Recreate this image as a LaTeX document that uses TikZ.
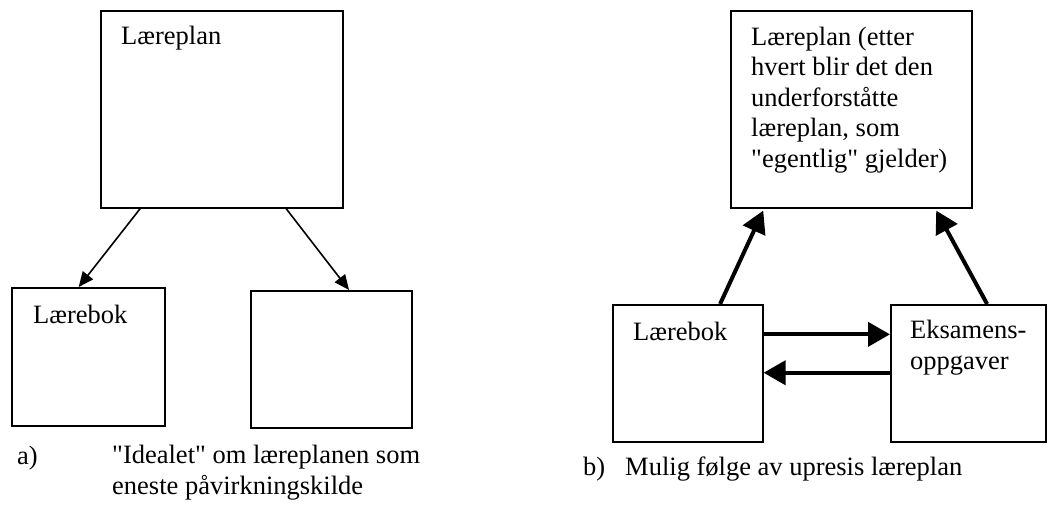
\documentclass[tikz,border=0pt]{standalone}
\usepackage{fontspec}
\setmainfont{Liberation Serif}[Ligatures=TeXOff]
\usetikzlibrary{arrows.meta,calc}
\begin{document}
\begin{tikzpicture}[x=1pt,y=-1pt,
  box/.style={draw, line width=1.6pt, rectangle, inner sep=0pt, anchor=north west},
  txt/.style={anchor=base west, inner sep=0pt, font=\fontsize{26.5}{30.5}\selectfont, align=left},
  thinarrow/.style={line width=1.6pt, -{Triangle[length=15pt,width=13pt]}},
  thickarrow/.style={line width=4pt, -{Triangle[length=22pt,width=24pt]}}]
\useasboundingbox (0,0) rectangle (1049,511);
% panel a
\node[box, minimum width=242pt, minimum height=197pt] (pa) at (100,10) {};
\node[box, minimum width=153pt, minimum height=138pt] (ba) at (11,287) {};
\node[box, minimum width=161pt, minimum height=137pt] (ea) at (250,290) {};
\node[txt] (tpa) at (121,45) {Læreplan};
\node[txt] (tba) at (33,323) {Lærebok};
\draw[thinarrow] ($(pa.south west)!0.165!(pa.south east)$) -- ($(ba.north west)!0.438!(ba.north east)$);
\draw[thinarrow] ($(pa.south west)!0.764!(pa.south east)$) -- ($(ea.north west)!0.609!(ea.north east)$);
\node[txt] (ca1) at (17,464) {a)};
\node[txt] (ca2) at (112,494) {"Idealet" om læreplanen som\\eneste påvirkningskilde};
% panel b
\node[box, minimum width=241pt, minimum height=197pt] (pb) at (730,10) {};
\node[box, minimum width=150pt, minimum height=137pt] (bb) at (612,304) {};
\node[box, minimum width=155pt, minimum height=137pt] (eb) at (890,304) {};
\node[txt] (tpb) at (751,167) {Læreplan (etter\\hvert blir det den\\underforståtte\\læreplan, som\\"egentlig" gjelder)};
\node[txt] (tbb) at (633,340) {Lærebok};
\node[txt] (teb) at (910,369) {Eksamens-\\oppgaver};
\draw[thickarrow] ($(bb.north west)!0.713!(bb.north east)$) -- ($(pb.south west)!0.137!(pb.south east)+(0,2)$);
\draw[thickarrow] ($(eb.north west)!0.62!(eb.north east)$) -- ($(pb.south west)!0.85!(pb.south east)+(0,2)$);
\draw[thickarrow] ($(bb.north east)!0.219!(bb.south east)$) -- ($(eb.north west)!0.219!(eb.south west)$);
\draw[thickarrow] ($(eb.north west)!0.496!(eb.south west)$) -- ($(bb.north east)!0.496!(bb.south east)$);
\node[txt] (cb1) at (583,475) {b)};
\node[txt] (cb2) at (625,475) {Mulig følge av upresis læreplan};
\end{tikzpicture}
\end{document}
